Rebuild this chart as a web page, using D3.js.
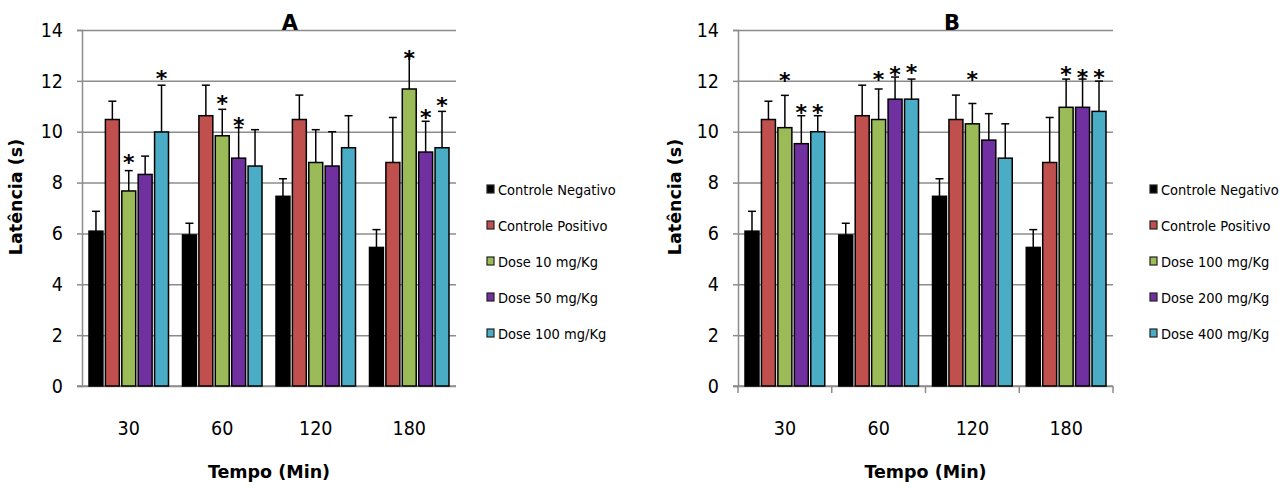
<!DOCTYPE html>
<html>
<head>
<meta charset="utf-8">
<script src="https://cdn.jsdelivr.net/npm/d3@7"></script>
<style>
  body { margin: 0; background: #fff; }
  .lbl { font-family: "DejaVu Sans Condensed", "DejaVu Sans", sans-serif; font-stretch: condensed; fill: #000; }
  .ttl { font-family: "DejaVu Sans", Verdana, sans-serif; font-weight: bold; fill: #000; }
</style>
</head>
<body>
<div id="vis"></div>
<script>
// data
const times = ["30", "60", "120", "180"];
const yTicks = [0, 2, 4, 6, 8, 10, 12, 14];

const seriesA = ["Controle Negativo", "Controle Positivo", "Dose 10 mg/Kg", "Dose 50 mg/Kg", "Dose 100 mg/Kg"];
const seriesB = ["Controle Negativo", "Controle Positivo", "Dose 100 mg/Kg", "Dose 200 mg/Kg", "Dose 400 mg/Kg"];

// mean latency per series, one value per time
const meansA = [
  [6.09, 5.94, 7.46, 5.45],
  [10.48, 10.63, 10.48, 8.79],
  [7.67, 9.84, 8.79, 11.68],
  [8.32, 8.96, 8.65, 9.20],
  [9.99, 8.65, 9.37, 9.37]
];
const errA = [
  [0.78, 0.46, 0.69, 0.70],
  [0.72, 1.20, 0.96, 1.77],
  [0.80, 1.04, 1.29, 1.29],
  [0.72, 1.20, 1.35, 1.21],
  [1.84, 1.43, 1.26, 1.43]
];
const meansB = [
  [6.09, 5.94, 7.46, 5.45],
  [10.48, 10.63, 10.48, 8.79],
  [10.16, 10.48, 10.31, 10.96],
  [9.53, 11.28, 9.67, 10.96],
  [10.00, 11.28, 8.96, 10.80]
];
const errB = [
  [0.78, 0.46, 0.69, 0.70],
  [0.72, 1.20, 0.96, 1.77],
  [1.27, 1.20, 0.80, 1.11],
  [1.10, 0.87, 1.04, 1.11],
  [0.63, 0.79, 1.35, 1.19]
];
// significance marks: [series index, time index, height of the mark]
const starsA = [[2, 0, 9.02], [4, 0, 12.32], [2, 1, 11.31], [3, 1, 10.48], [2, 3, 13.08], [3, 3, 10.79], [4, 3, 11.24]];
const starsB = [[2, 0, 12.23], [3, 0, 10.96], [4, 0, 10.96], [2, 1, 12.27], [3, 1, 12.45], [4, 1, 12.53],
                [2, 2, 12.27], [2, 3, 12.45], [3, 3, 12.36], [4, 3, 12.36]];

const colors = ["#000000", "#c0504d", "#9bbb59", "#7030a0", "#4bacc6"];
const gridColor = "#8c8c8c";

const svg = d3.select("#vis").append("svg")
  .attr("width", 1282)
  .attr("height", 488)
  .style("background", "#fff");

function drawPanel(p) {
  const top = 30, bottom = 386;
  const g = svg.append("g");

  const x0 = d3.scaleBand().domain(times).range([p.left, p.right]).padding(0);
  const x1 = d3.scaleBand().domain(d3.range(5)).range([7, x0.bandwidth() - 7]).paddingInner(0.15);
  const y = d3.scaleLinear().domain([0, 14]).range([bottom, top]);

  // gridlines
  g.append("g")
    .attr("transform", `translate(${p.left}, 0)`)
    .call(d3.axisLeft(y).tickValues(yTicks).tickSize(-(p.right - p.left)).tickFormat(""))
    .call(a => a.select(".domain").remove())
    .call(a => a.selectAll("line").attr("stroke", gridColor).attr("stroke-width", 1.5));

  // y axis
  g.append("g")
    .attr("transform", `translate(${p.left}, 0)`)
    .call(d3.axisLeft(y).tickValues(yTicks).tickSize(5).tickPadding(14))
    .call(a => a.select(".domain").attr("stroke", gridColor).attr("stroke-width", 1.5))
    .call(a => a.selectAll("line").attr("stroke", gridColor).attr("stroke-width", 1.5))
    .call(a => a.selectAll("text").attr("class", "lbl").attr("font-size", "19.5px").attr("font-family", null));

  // x axis labels
  g.append("g")
    .attr("transform", `translate(0, ${bottom})`)
    .call(d3.axisBottom(x0).tickSize(0).tickPadding(35))
    .call(a => a.select(".domain").remove())
    .call(a => a.selectAll("text").attr("class", "lbl").attr("font-size", "19.5px").attr("font-family", null));

  // baseline
  g.append("line")
    .attr("x1", p.left - 5).attr("x2", p.right)
    .attr("y1", y(0)).attr("y2", y(0))
    .attr("stroke", gridColor).attr("stroke-width", 1.5);

  if (p.boundaryTicks) {
    const edges = times.map(t => x0(t)).concat([p.right]);
    g.selectAll(".btick").data(edges).enter().append("line")
      .attr("x1", d => d).attr("x2", d => d)
      .attr("y1", y(0)).attr("y2", y(0) + 7)
      .attr("stroke", gridColor).attr("stroke-width", 1.5);
  }

  // bars
  const rows = [];
  p.means.forEach((vals, s) => vals.forEach((v, t) => rows.push({ s, t, v, e: p.errs[s][t] })));

  const bars = g.append("g");
  bars.selectAll("rect").data(rows).enter().append("rect")
    .attr("x", d => x0(times[d.t]) + x1(d.s))
    .attr("y", d => y(d.v))
    .attr("width", x1.bandwidth())
    .attr("height", d => y(0) - y(d.v))
    .attr("fill", d => colors[d.s])
    .attr("stroke", "#000")
    .attr("stroke-width", 1.5);

  // error bars (upper only)
  const eb = g.append("g").attr("stroke", "#000").attr("stroke-width", 1.5);
  rows.forEach(d => {
    const cx = x0(times[d.t]) + x1(d.s) + x1.bandwidth() / 2;
    eb.append("line").attr("x1", cx).attr("x2", cx).attr("y1", y(d.v)).attr("y2", y(d.v + d.e));
    eb.append("line").attr("x1", cx - 4).attr("x2", cx + 4).attr("y1", y(d.v + d.e)).attr("y2", y(d.v + d.e));
  });

  // stars
  g.selectAll(".star").data(p.stars).enter().append("text")
    .attr("class", "ttl")
    .attr("font-size", "22px")
    .attr("text-anchor", "middle")
    .attr("x", d => x0(times[d[1]]) + x1(d[0]) + x1.bandwidth() / 2)
    .attr("y", d => y(d[2]) + 13)
    .text("*");

  // panel title
  g.append("text")
    .attr("class", "ttl")
    .attr("font-size", "21px")
    .attr("text-anchor", "middle")
    .attr("x", p.titleX)
    .attr("y", 30)
    .text(p.title);

  // axis titles
  g.append("text")
    .attr("class", "ttl")
    .attr("font-size", "17.5px")
    .attr("text-anchor", "middle")
    .attr("x", (p.left + p.right) / 2)
    .attr("y", 478)
    .text("Tempo (Min)");

  g.append("text")
    .attr("class", "ttl")
    .attr("font-size", "17.5px")
    .attr("text-anchor", "middle")
    .attr("transform", `translate(${p.yTitleX}, 197) rotate(-90)`)
    .text("Latência (s)");

  // legend
  const legend = g.append("g").attr("transform", `translate(${p.legendX}, 189)`);
  p.series.forEach((name, i) => {
    const row = legend.append("g").attr("transform", `translate(0, ${i * 36})`);
    row.append("rect")
      .attr("x", 0).attr("y", -4)
      .attr("width", 7).attr("height", 8)
      .attr("fill", colors[i])
      .attr("stroke", "#222")
      .attr("stroke-width", 1.2);
    row.append("text")
      .attr("class", "lbl")
      .attr("font-size", "14.5px")
      .attr("x", 11)
      .attr("y", 5.5)
      .text(name);
  });
}

drawPanel({ left: 82, right: 456, means: meansA, errs: errA, stars: starsA, series: seriesA,
  title: "A", titleX: 290, yTitleX: 22, legendX: 487, boundaryTicks: false });
drawPanel({ left: 738, right: 1113, means: meansB, errs: errB, stars: starsB, series: seriesB,
  title: "B", titleX: 952, yTitleX: 681, legendX: 1150, boundaryTicks: true });
</script>
</body>
</html>
